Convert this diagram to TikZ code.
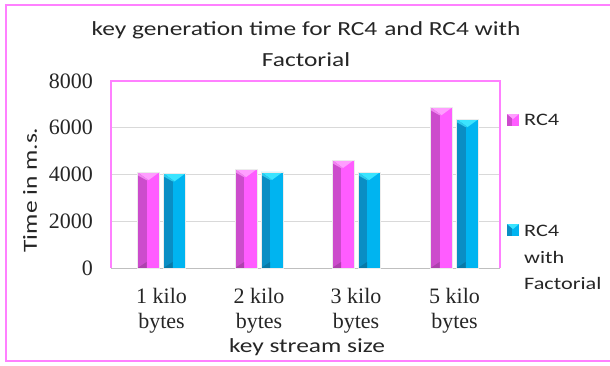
\documentclass[tikz,border=0pt]{standalone}
\usepackage{fontspec}
\setmainfont{Liberation Serif}
\newfontfamily\calfont[FakeStretch=1.27]{Carlito}
\definecolor{framepink}{HTML}{FF80FF}
\definecolor{gridgray}{HTML}{D9D9D9}
\definecolor{axisgray}{HTML}{BFBFBF}
\definecolor{txtgray}{HTML}{262626}
\definecolor{pinkdark}{HTML}{CC4CCC}
\definecolor{pinklight}{HTML}{FF5CFF}
\definecolor{pinktri}{HTML}{FF9EFF}
\definecolor{bluedark}{HTML}{0A8EC4}
\definecolor{bluelight}{HTML}{00B4F0}
\definecolor{bluetri}{HTML}{3AE4FF}
\tikzset{
  titletext/.style={font=\calfont\fontsize{20}{24}\selectfont, text=txtgray, inner sep=0pt},
  legtext/.style={font=\calfont\fontsize{17.5}{21}\selectfont, text=txtgray, inner sep=0pt},
  ticktext/.style={font=\fontsize{22}{26}\selectfont, text=txtgray, inner sep=0pt},
  cattext/.style={font=\fontsize{22}{26}\selectfont, text=txtgray, inner sep=0pt},
}
% bar: left x, top y, dark, light, tri
\newcommand\drawmybar[5]{%
  \fill[#4] (#1,#2) rectangle ({#1+22},268);
  \fill[#3] (#1,#2) rectangle ({#1+9},268);
  \fill[#3!85!black] (#1,268) -- ({#1+9},{268-6}) -- ({#1+9},268) -- cycle;
  \fill[#5] (#1,#2) -- ({#1+22},#2) -- ({#1+11},{#2+8}) -- cycle;
  \fill[#5!70!#3] (#1,#2) -- ({#1+11},{#2+8}) -- ({#1+9},{#2+8}) -- (#1,{#2+3}) -- cycle;
  \draw[white!85!gray, line width=0.6pt] (#1,#2) rectangle ({#1+22},268);
}
\begin{document}
\begin{tikzpicture}[x=1pt,y=-1pt]
\useasboundingbox (0,0) rectangle (610,365);
\fill[white] (0,0) rectangle (610,365);
\clip (0,0) rectangle (610,365);
% outer frame
\draw[framepink, line width=2pt] (6,4.5) rectangle (616,361);
% gridlines
\foreach \v in {2000,4000,6000} {
  \draw[gridgray, line width=0.8pt] (111,{268-\v/8000*187}) -- (500,{268-\v/8000*187});
}
% plot frame
\draw[framepink, line width=1.2pt] (111,268) -- (111,81) -- (500,81) -- (500,268);
\draw[axisgray, line width=1pt] (111,268) -- (500,268);
% bars
\foreach \cx/\va/\vb in {161.5/4100/4050, 259/4230/4110, 356/4620/4100, 454.5/6880/6370} {
  \pgfmathsetmacro\ta{268-\va/8000*187}
  \pgfmathsetmacro\tb{268-\vb/8000*187}
  \pgfmathsetmacro\la{\cx-24}
  \pgfmathsetmacro\lb{\cx+2}
  \drawmybar{\la}{\ta}{pinkdark}{pinklight}{pinktri}
  \drawmybar{\lb}{\tb}{bluedark}{bluelight}{bluetri}
}
% tick labels
\node[ticktext, anchor=east] (t0) at (93,268) {0};
\node[ticktext, anchor=east] (t2) at (93,221.25) {2000};
\node[ticktext, anchor=east] (t4) at (93,174.5) {4000};
\node[ticktext, anchor=east] (t6) at (93,127.75) {6000};
\node[ticktext, anchor=east] (t8) at (93,81) {8000};
% category labels
\node[cattext, anchor=base] (c1a) at (161.5,303) {1 kilo};
\node[cattext, anchor=base] (c1b) at (161.5,328) {bytes};
\node[cattext, anchor=base] (c2a) at (259,303) {2 kilo};
\node[cattext, anchor=base] (c2b) at (259,328) {bytes};
\node[cattext, anchor=base] (c3a) at (356,303) {3 kilo};
\node[cattext, anchor=base] (c3b) at (356,328) {bytes};
\node[cattext, anchor=base] (c5a) at (454.5,303) {5 kilo};
\node[cattext, anchor=base] (c5b) at (454.5,328) {bytes};
% titles
\node[titletext, anchor=base] (title1) at (306,35) {key generation time for RC4\hspace{7pt}and RC4 with};
\node[titletext, anchor=base] (title2) at (306,66) {Factorial};
\node[titletext, anchor=base] (xtitle) at (307,352) {key stream size};
\node[titletext, rotate=90] (ytitle) at (30,190) {Time in m.s.};
% legend
\fill[pinklight] (507,114) rectangle (519,126);
\fill[pinkdark] (507,114) rectangle (512,126);
\fill[pinktri] (507,114) -- (519,114) -- (513,119) -- cycle;
\fill[bluelight] (507,224) rectangle (519,236);
\fill[bluedark] (507,224) rectangle (512,236);
\fill[bluetri] (507,224) -- (519,224) -- (513,229) -- cycle;
\node[legtext, anchor=base west] (l1) at (524,125) {RC4};
\node[legtext, anchor=base west] (l2a) at (524,236) {RC4};
\node[legtext, anchor=base west] (l2b) at (524,263) {with};
\node[legtext, anchor=base west] (l2c) at (524,289) {Factorial};
\end{tikzpicture}
\end{document}
